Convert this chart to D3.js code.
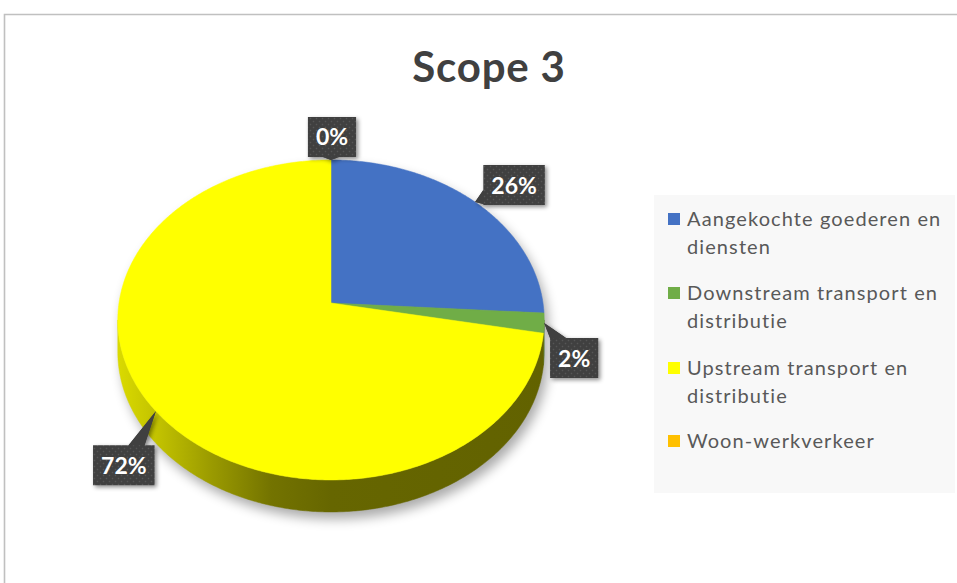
<!DOCTYPE html>
<html><head><meta charset="utf-8">
<script src="https://cdn.jsdelivr.net/npm/d3@7"></script>
<style>html,body{margin:0;padding:0;background:#fff;overflow:hidden}</style>
</head><body><svg id="chart" width="957" height="583"></svg>
<script>
const title = "Scope 3";
const categories = ["Aangekochte goederen en diensten", "Downstream transport en distributie", "Upstream transport en distributie", "Woon-werkverkeer"];
const values = [26, 2, 72, 0];
const colors = ["#4472c4", "#70ad47", "#ffff00", "#ffc000"];
const sideColors = ["#2f5597", "#4e7a31", "url(#ySide)", "#b38600"];

const svg = d3.select("#chart");
const defs = svg.append("defs");

// chart border
svg.append("path").attr("d", "M4.5,583V14.5H957").attr("fill", "none").attr("stroke", "#c0c0c0").attr("stroke-width", 1.6);

// title
svg.append("text").attr("x", 489).attr("y", 82).attr("text-anchor", "middle")
  .attr("font-family", "Lato, 'Open Sans', sans-serif").attr("font-weight", 700).attr("font-size", 42)
  .attr("letter-spacing", 0.8).attr("fill", "#404040").text(title);

// perspective projection of the pie disc
const P = {cx: 331, cy: 303, sx: 212, sy: 158.2, k: 0.106, depth: 32};
function proj(t, dz = 0) {
  const X = Math.sin(t), Y = -Math.cos(t), w = 1 - P.k * Y;
  return [P.cx + P.sx * X / w, P.cy + P.sy * Y / w + dz];
}
function arcPts(a0, a1, dz = 0) {
  const n = Math.max(2, Math.ceil(Math.abs(a1 - a0) / 0.01));
  return d3.range(n + 1).map(i => proj(a0 + (a1 - a0) * i / n, dz));
}
const line = d3.line();
const visA = Math.acos(-P.k), visB = 2 * Math.PI - Math.acos(-P.k);

// gradients / filters
const yg = defs.append("linearGradient").attr("id", "ySide").attr("gradientUnits", "userSpaceOnUse")
  .attr("x1", 118).attr("x2", 545).attr("y1", 0).attr("y2", 0);
[[0, "#dada00"], [0.1, "#c0c000"], [0.22, "#9a9a00"], [0.36, "#737300"], [0.5, "#666600"], [1, "#626200"]]
  .forEach(s => yg.append("stop").attr("offset", s[0]).attr("stop-color", s[1]));
const blur = defs.append("filter").attr("id", "pieShadow").attr("x", "-20%").attr("y", "-20%").attr("width", "140%").attr("height", "140%");
blur.append("feGaussianBlur").attr("stdDeviation", 6);
const ds = defs.append("filter").attr("id", "boxShadow").attr("x", "-30%").attr("y", "-30%").attr("width", "160%").attr("height", "160%");
ds.append("feDropShadow").attr("dx", 2).attr("dy", 2).attr("stdDeviation", 2).attr("flood-color", "#000").attr("flood-opacity", 0.45);
const pat = defs.append("pattern").attr("id", "dots").attr("width", 6).attr("height", 6).attr("patternUnits", "userSpaceOnUse");
pat.append("rect").attr("width", 6).attr("height", 6).attr("fill", "#404040");
pat.append("circle").attr("cx", 1.5).attr("cy", 1.5).attr("r", 0.8).attr("fill", "#575757");
pat.append("circle").attr("cx", 4.5).attr("cy", 4.5).attr("r", 0.8).attr("fill", "#575757");

const pie = d3.pie().sort(null).value(d => d);
const arcs = pie(values);

// shadow of the whole disc
const outline = arcPts(visB, visA + 2 * Math.PI).concat(arcPts(visA, visB, P.depth));
svg.append("path").attr("d", line(outline) + "Z").attr("fill", "#000").attr("opacity", 0.33)
  .attr("transform", "translate(4,7)").attr("filter", "url(#pieShadow)");

// sides
const gSide = svg.append("g");
arcs.forEach((d, i) => {
  const a0 = Math.max(d.startAngle, visA), a1 = Math.min(d.endAngle, visB);
  if (a1 <= a0) return;
  const pts = arcPts(a0, a1).concat(arcPts(a1, a0, P.depth));
  gSide.append("path").attr("d", line(pts) + "Z").attr("fill", sideColors[i]).attr("stroke", sideColors[i]).attr("stroke-width", 0.5);
});

// top faces
const gTop = svg.append("g");
arcs.forEach((d, i) => {
  if (d.endAngle - d.startAngle <= 0) return;
  const pts = [[P.cx, P.cy]].concat(arcPts(d.startAngle, d.endAngle));
  gTop.append("path").attr("d", line(pts) + "Z").attr("fill", colors[i]).attr("stroke", colors[i]).attr("stroke-width", 0.5);
});

// data callouts
const labelOffsets = [[39, -17], [30, 35], [-32, 54], [1, -23]];
const total = d3.sum(values);
const gLab = svg.append("g");
arcs.forEach((d, i) => {
  const mid = (d.startAngle + d.endAngle) / 2;
  const [tx, ty] = proj(mid);
  const bx = tx + labelOffsets[i][0], by = ty + labelOffsets[i][1];
  const g = gLab.append("g");
  const t = g.append("text").attr("x", bx).attr("y", by + 8.5).attr("text-anchor", "middle")
    .attr("font-family", "Lato, 'Open Sans', sans-serif").attr("font-weight", 700).attr("font-size", 23)
    .attr("fill", "#fff").text(Math.round(d.value / total * 100) + "%");
  const tw = t.node().getComputedTextLength();
  const bw = tw + 16, bh = 40;
  const x0 = bx - bw / 2, x1 = bx + bw / 2, y0 = by - bh / 2, y1 = by + bh / 2;
  const dxo = tx < x0 ? x0 - tx : (tx > x1 ? tx - x1 : 0);
  const dyo = ty < y0 ? y0 - ty : (ty > y1 ? ty - y1 : 0);
  let tri;
  if (dyo >= dxo) {
    const ey = ty < y0 ? y0 : y1;
    const c = Math.max(x0 + 8, Math.min(x1 - 18, tx));
    tri = [[c - 8, ey], [c + 8, ey], [tx, ty]];
  } else {
    const ex = tx < x0 ? x0 : x1;
    const c = Math.max(y0 + 8, Math.min(y1 - 8, ty));
    tri = [[ex, c - 7], [ex, c + 7], [tx, ty]];
  }
  const shape = `M${x0},${y0}H${x1}V${y1}H${x0}Z` + line(tri) + "Z";
  g.insert("path", "text").attr("d", shape).attr("fill", "url(#dots)").attr("filter", "url(#boxShadow)");
  g.insert("path", "text").attr("d", line(tri) + "Z").attr("fill", "#404040");
});

// legend
const leg = svg.append("g");
leg.append("rect").attr("x", 654).attr("y", 195).attr("width", 301).attr("height", 298).attr("fill", "#f8f8f8");
const itemY = [226, 300, 375, 448];
const lineH = 28, maxW = 272;
categories.forEach((c, i) => {
  leg.append("rect").attr("x", 668).attr("y", itemY[i] - 13).attr("width", 12).attr("height", 12).attr("fill", colors[i]);
  const txt = leg.append("text").attr("font-family", "Lato, 'Open Sans', sans-serif").attr("font-size", 20)
    .attr("letter-spacing", 1.1).attr("fill", "#595959");
  const words = c.split(" ");
  let lineStr = "", ln = 0;
  let ts = txt.append("tspan").attr("x", 687).attr("y", itemY[i]);
  words.forEach(w => {
    const test = lineStr ? lineStr + " " + w : w;
    ts.text(test);
    if (ts.node().getComputedTextLength() > maxW && lineStr) {
      ts.text(lineStr);
      ln++;
      lineStr = w;
      ts = txt.append("tspan").attr("x", 687).attr("y", itemY[i] + ln * lineH).text(w);
    } else lineStr = test;
  });
});
</script></body></html>
